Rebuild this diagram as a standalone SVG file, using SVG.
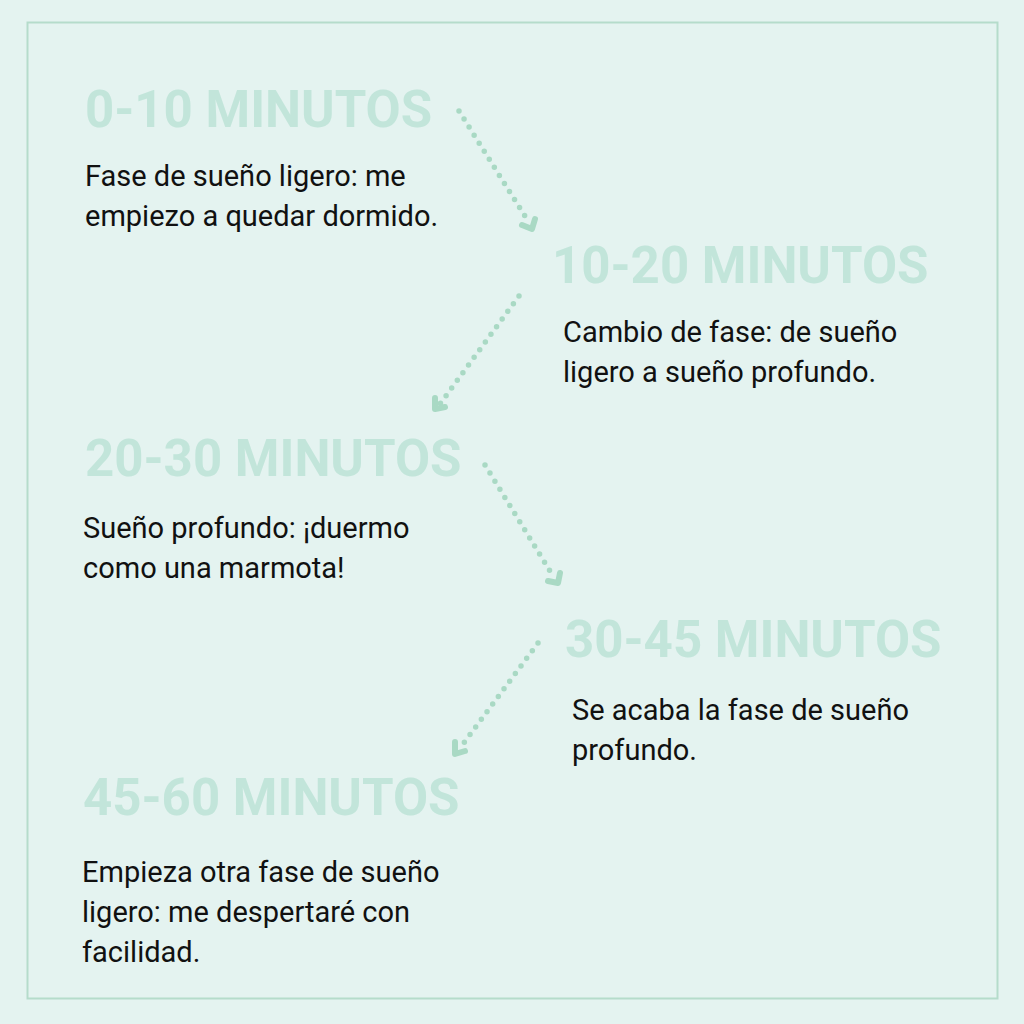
<svg xmlns="http://www.w3.org/2000/svg" width="1024" height="1024" viewBox="0 0 1024 1024">
<defs>
<style>
.h{font-family:Roboto,"Liberation Sans",sans-serif;font-weight:700;font-size:51px;fill:#c2e5da}
.b{font-family:Roboto,"Liberation Sans",sans-serif;font-size:29px;fill:#111}
.c{fill:none;stroke:#a9d9c4;stroke-width:5.5;stroke-linecap:round;stroke-dasharray:0 9.5}
.hd{fill:none;stroke:#a9d9c4;stroke-width:6;stroke-linecap:round;stroke-linejoin:round}
</style>
</defs>
<rect width="1024" height="1024" fill="#e4f3f0"/>
<rect x="27.5" y="22.5" width="970" height="976" fill="none" stroke="#b5dccb" stroke-width="2"/>
<g id="connectors">
<path class="c" d="M459 111 L528 221"/>
<path class="hd" d="M522 225 L532 229 L535 219"/>
<path class="c" d="M519 296 L440 404"/>
<path class="hd" d="M435 398 L435 409 L445 407"/>
<path class="c" d="M485 465 L553 576"/>
<path class="hd" d="M548 581 L558 583 L560 573"/>
<path class="c" d="M538 643 L460 748"/>
<path class="hd" d="M455 742 L455 754 L465 751"/>
</g>
<g id="n1"><text class="h" x="85" y="127">0-10 MINUTOS</text>
<text class="b" x="85" y="186">Fase de sueño ligero: me</text><text class="b" x="85" y="226">empiezo a quedar dormido.</text></g>
<g id="n2"><text class="h" x="552" y="283">10-20 MINUTOS</text>
<text class="b" x="563" y="342">Cambio de fase: de sueño</text><text class="b" x="563" y="382">ligero a sueño profundo.</text></g>
<g id="n3"><text class="h" x="85" y="476">20-30 MINUTOS</text>
<text class="b" x="83" y="538">Sueño profundo: ¡duermo</text><text class="b" x="83" y="578">como una marmota!</text></g>
<g id="n4"><text class="h" x="565" y="657">30-45 MINUTOS</text>
<text class="b" x="572" y="720">Se acaba la fase de sueño</text><text class="b" x="572" y="760">profundo.</text></g>
<g id="n5"><text class="h" x="83" y="815">45-60 MINUTOS</text>
<text class="b" x="82" y="882">Empieza otra fase de sueño</text><text class="b" x="82" y="922">ligero: me despertaré con</text><text class="b" x="82" y="962">facilidad.</text></g>
</svg>
